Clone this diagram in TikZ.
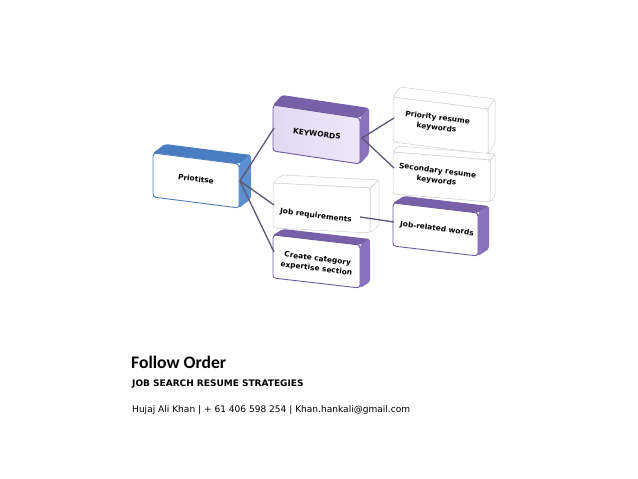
\documentclass[tikz,border=0pt]{standalone}
\usepackage{fontspec}
\usetikzlibrary{calc}
\newfontfamily\djs{DejaVu Sans}
\newfontfamily\carl{Carlito}
\definecolor{bluetop}{HTML}{4A7CC2}
\definecolor{blueside}{HTML}{5C8FD2}
\definecolor{blueedge}{HTML}{4F7FBF}
\definecolor{purtop}{HTML}{7760A8}
\definecolor{purside}{HTML}{8B72BC}
\definecolor{puredge}{HTML}{6E5A9C}
\definecolor{lavender}{HTML}{E2D8F3}
\definecolor{conn}{HTML}{5C5873}
\definecolor{ghost}{HTML}{CFCFCF}
\tikzset{
  lbl/.style={font=\djs\bfseries\fontsize{7.4}{10}\selectfont, align=center, rotate=-7, inner sep=0pt},
  connector/.style={draw=conn, line width=1.3pt},
  bluetopf/.style={fill=bluetop}, bluesidef/.style={fill=blueside},
  bluefront/.style={fill=white, draw=blueedge, line width=0.9pt},
  purtopf/.style={fill=purtop}, pursidef/.style={fill=purside},
  purfront/.style={fill=white, draw=puredge, line width=0.9pt},
  kwfront/.style={left color=lavender, right color=lavender!60!white, draw=puredge, line width=0.9pt},
  whtopf/.style={fill=white, draw=ghost, line width=0.5pt},
  whsidef/.style={fill=white, draw=ghost, line width=0.5pt},
  whfront/.style={fill=white, draw=ghost, line width=0.5pt},
}
% #1 name, #2 x, #3 y, #4 w, #5 skew, #6 h, #7 dx, #8 dy, #9 style prefix
\newcommand\tdbox[9]{%
  \coordinate (#1-tl) at (#2,#3);
  \coordinate (#1-tr) at ($(#1-tl)+(#4,#5)$);
  \coordinate (#1-br) at ($(#1-tr)+(0,#6)$);
  \coordinate (#1-bl) at ($(#1-tl)+(0,#6)$);
  \path[#9sidef, rounded corners=2pt] (#1-tr) -- ($(#1-tr)+(#7,-#8)$) -- ($(#1-br)+(#7,-#8)$) -- (#1-br) -- cycle;
  \path[#9topf, rounded corners=2pt] (#1-tl) -- ($(#1-tl)+(#7,-#8)$) -- ($(#1-tr)+(#7,-#8)$) -- (#1-tr) -- cycle;
}
\newcommand\tdfront[2]{%
  \path[#2, rounded corners=3pt] (#1-tl) -- (#1-tr) -- (#1-br) -- (#1-bl) -- cycle;
}
\begin{document}
\begin{tikzpicture}[x=1pt,y=-1pt]
\useasboundingbox[fill=white] (0,0) rectangle (638,479);

% connector end points
\coordinate (pr-e) at (240,181);
\coordinate (kw-w) at (274,128);
\coordinate (jr-w) at (274,205);
\coordinate (cc-w) at (274,252);
\coordinate (kw-e) at (362,138);
\coordinate (pk-w) at (394,118);
\coordinate (sk-w) at (394,168);
\coordinate (jr-e) at (360,217);
\coordinate (jw-w) at (394,222);

% white boxes
\tdbox{pk}{393}{97}{95}{12}{45}{7}{10}{wh}
\tdfront{pk}{whfront}
\tdbox{sk}{393}{152}{97}{8}{42}{5}{6}{wh}
\tdfront{sk}{whfront}
\tdbox{jr}{273}{183}{97}{5}{45}{9}{8}{wh}
\tdfront{jr}{whfront}

% coloured boxes
\tdbox{pr}{153}{153}{86}{11}{44}{12}{9}{blue}
\tdfront{pr}{bluefront}
\tdbox{kw}{273}{105}{87}{13}{46}{9}{10}{pur}
\tdfront{kw}{kwfront}
\tdbox{jw}{393}{203}{85}{10}{43}{11}{7}{pur}
\tdfront{jw}{purfront}
\tdbox{cc}{273}{235}{87}{10}{43}{10}{6}{pur}
\tdfront{cc}{purfront}

\draw[connector] (pr-e) -- (kw-w);
\draw[connector] (pr-e) -- (jr-w);
\draw[connector] (pr-e) -- (cc-w);
\draw[connector] (kw-e) -- (pk-w);
\draw[connector] (kw-e) -- (sk-w);
\draw[connector] (jr-e) -- (jw-w);

\node[lbl] (prt) at (196,179) {Priotitse};
\node[lbl] (kwt) at (317,134) {KEYWORDS};
\node[lbl] (pkt) at (437,123) {Priority resume\\keywords};
\node[lbl] (skt) at (437,176) {Secondary resume\\keywords};
\node[lbl] (jrt) at (316,216) {Job requirements};
\node[lbl] (jwt) at (437,229) {Job-related words};
\node[lbl] (cct) at (317,264) {Create category\\expertise section};

\node[anchor=base west, inner sep=0pt, font=\carl\bfseries\fontsize{17.6}{19}\selectfont] (t1) at (131,368) {Follow Order};
\node[anchor=base west, inner sep=0pt, font=\djs\bfseries\fontsize{9}{11}\selectfont] (t2) at (132,386.5) {JOB SEARCH RESUME STRATEGIES};
\node[anchor=base west, inner sep=0pt, font=\djs\fontsize{9.05}{11}\selectfont] (t3) at (132,412.5) {Hujaj Ali Khan | + 61 406 598 254 | Khan.hankali@gmail.com};
\end{tikzpicture}
\end{document}
